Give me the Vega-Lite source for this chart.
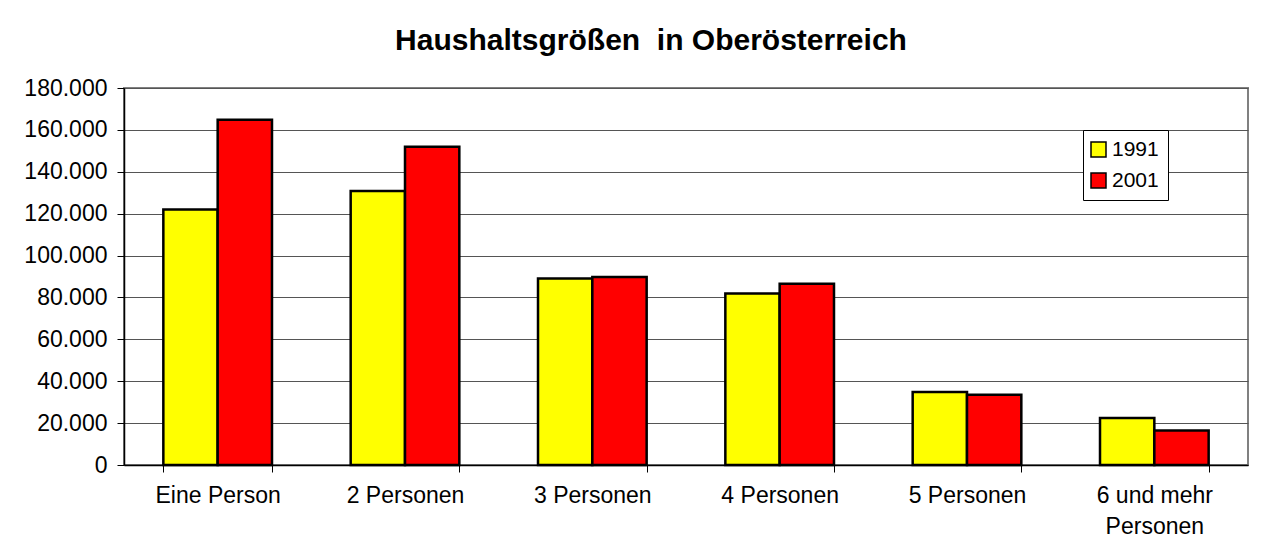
{
  "$schema": "https://vega.github.io/schema/vega-lite/v6.json",
  "width": 1124,
  "height": 377,
  "autosize": "none",
  "padding": {"left": 124, "top": 88, "right": 13, "bottom": 76},
  "background": "white",
  "title": {
    "text": "Haushaltsgrößen\u00a0 in Oberösterreich",
    "fontSize": 30,
    "font": "Liberation Sans",
    "fontWeight": "bold",
    "color": "black",
    "anchor": "middle",
    "baseline": "alphabetic",
    "offset": 40,
    "dx": -35,
    "dy": 43
  },
  "data": {
    "values": [
      {"groesse": "Eine Person", "jahr": "1991", "anzahl": 122000},
      {"groesse": "Eine Person", "jahr": "2001", "anzahl": 164800},
      {"groesse": "2 Personen", "jahr": "1991", "anzahl": 130800},
      {"groesse": "2 Personen", "jahr": "2001", "anzahl": 152000},
      {"groesse": "3 Personen", "jahr": "1991", "anzahl": 89000},
      {"groesse": "3 Personen", "jahr": "2001", "anzahl": 89800},
      {"groesse": "4 Personen", "jahr": "1991", "anzahl": 81900},
      {"groesse": "4 Personen", "jahr": "2001", "anzahl": 86500},
      {"groesse": "5 Personen", "jahr": "1991", "anzahl": 34800},
      {"groesse": "5 Personen", "jahr": "2001", "anzahl": 33500},
      {"groesse": "6 und mehr Personen", "jahr": "1991", "anzahl": 22400},
      {"groesse": "6 und mehr Personen", "jahr": "2001", "anzahl": 16500}
    ]
  },
  "mark": {"type": "bar", "stroke": "black", "strokeWidth": 2.5},
  "encoding": {
    "x": {
      "field": "groesse",
      "type": "nominal",
      "sort": null,
      "scale": {"paddingInner": 0.42, "paddingOuter": 0.21},
      "axis": {
        "title": null,
        "labelAngle": 0,
        "labelFontSize": 23,
        "labelFont": "Liberation Sans",
        "labelColor": "black",
        "domainColor": "black",
        "domainWidth": 1.5,
        "tickColor": "black",
        "tickSize": 7,
        "tickBand": "extent",
        "labelPadding": 12,
        "labelLineHeight": 31,
        "labelExpr": "datum.label == '6 und mehr Personen' ? ['6 und mehr', 'Personen'] : datum.label"
      }
    },
    "xOffset": {
      "field": "jahr",
      "type": "nominal",
      "scale": {"paddingInner": 0, "paddingOuter": 0}
    },
    "y": {
      "field": "anzahl",
      "type": "quantitative",
      "scale": {"domain": [0, 180000]},
      "axis": {
        "title": null,
        "values": [0, 20000, 40000, 60000, 80000, 100000, 120000, 140000, 160000, 180000],
        "labelExpr": "replace(format(datum.value, ',.0f'), ',', '.')",
        "labelFontSize": 23,
        "labelFont": "Liberation Sans",
        "labelColor": "black",
        "tickSize": 7,
        "labelPadding": 10,
        "tickColor": "black",
        "domainColor": "black",
        "domainWidth": 1.5,
        "gridColor": "#555555",
        "gridWidth": 1
      }
    },
    "color": {
      "field": "jahr",
      "type": "nominal",
      "scale": {"domain": ["1991", "2001"], "range": ["#ffff00", "#ff0000"]},
      "legend": {
        "orient": "none",
        "legendX": 959,
        "legendY": 42,
        "title": null,
        "labelFontSize": 21,
        "labelFont": "Liberation Sans",
        "labelColor": "black",
        "symbolType": "square",
        "symbolSize": 225,
        "symbolStrokeColor": "black",
        "symbolStrokeWidth": 1.5,
        "symbolOffset": -4,
        "strokeColor": "black",
        "fillColor": "white",
        "padding": 9,
        "rowPadding": 9,
        "labelOffset": 3,
        "cornerRadius": 0
      }
    }
  },
  "config": {
    "view": {"stroke": "#808080", "strokeWidth": 2},
    "font": "Liberation Sans"
  }
}
